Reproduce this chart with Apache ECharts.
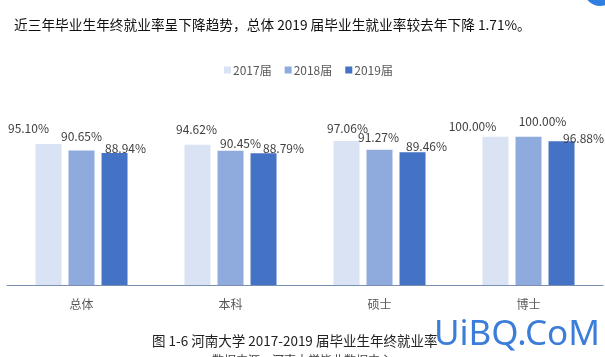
<!DOCTYPE html>
<html><head><meta charset="utf-8">
<script src="https://cdn.jsdelivr.net/npm/echarts@6/dist/echarts.min.js"></script>
<style>html,body{margin:0;padding:0;background:#fff}#c{width:605px;height:357px}</style>
</head><body><div id="c"></div>
<script>
const categories = ['总体', '本科', '硕士', '博士'];
const seriesNames = ['2017届', '2018届', '2019届'];
const v2017 = [95.10, 94.62, 97.06, 100.00];
const v2018 = [90.65, 90.45, 91.27, 100.00];
const v2019 = [88.94, 88.79, 89.46, 96.88];
const titleText = '近三年毕业生年终就业率呈下降趋势，总体 2019 届毕业生就业率较去年下降 1.71%。';
const captionText = '图 1-6 河南大学 2017-2019 届毕业生年终就业率';
const sourceText = '数据来源：河南大学毕业数据中心';

// label placement tweaks (style only), [dx, dy] per bar
const labelShift = [
  [[-20, -5], [-1, -4], [1, -2], [-23, 1]],
  [[0, -3], [10, 4], [-1, -1], [14, -4]],
  [[11, 6], [20, 6], [14, 5], [22, 8]]
];
const colors = ['#dae3f3', '#8faadc', '#4472c4'];
const F = '"Noto Sans CJK SC", "Noto Sans", sans-serif';

function mk(vals, si) {
  return vals.map((v, i) => ({
    value: v,
    label: { offset: labelShift[si][i] }
  }));
}
const allVals = [v2017, v2018, v2019];

const chart = echarts.init(document.getElementById('c'));
chart.setOption({
  animation: false,
  textStyle: { fontFamily: F },
  graphic: [
    { type: 'text', left: 14, top: 18, style: { text: titleText, font: '13.7px ' + F, fill: '#111' } },
    { type: 'text', left: 152, top: 334, style: { text: captionText, font: '13.5px ' + F, fill: '#222' } },
    { type: 'text', left: 212, top: 354, style: { text: sourceText, font: '12px ' + F, fill: '#444' } },
    { type: 'text', left: 434, top: 318, style: { text: 'UiBQ.CoM', font: '35px "Noto Sans", sans-serif', fill: '#3b7dd8' } },
    { type: 'circle', shape: { cx: 600, cy: -10, r: 16 }, style: { fill: '#2f7ee0' } }
  ],
  legend: {
    left: 219, top: 59,
    itemWidth: 7, itemHeight: 7, itemGap: 13,
    icon: 'rect',
    textStyle: { fontSize: 12, color: '#595959', fontFamily: F, padding: [0, 0, 0, -3] },
    data: seriesNames
  },
  grid: { left: 7, right: 2, top: 136.7, bottom: 72 },
  xAxis: {
    type: 'category', data: categories,
    axisLine: { lineStyle: { color: '#7d8fb0', width: 1 } },
    axisTick: { length: 4, lineStyle: { color: '#7d8fb0' } },
    axisLabel: { fontSize: 12, color: '#595959', margin: 13, fontFamily: F }
  },
  yAxis: { type: 'value', min: 0, max: 100, show: false, splitLine: { show: false } },
  series: seriesNames.map((n, si) => ({
    name: n, type: 'bar', data: mk(allVals[si], si),
    barWidth: 26, barGap: '27%',
    itemStyle: { color: colors[si] },
    label: {
      show: true, position: 'top', distance: 5,
      fontSize: 12, color: '#404040', fontFamily: F,
      formatter: p => p.value.toFixed(2) + '%'
    }
  }))
});
</script></body></html>
